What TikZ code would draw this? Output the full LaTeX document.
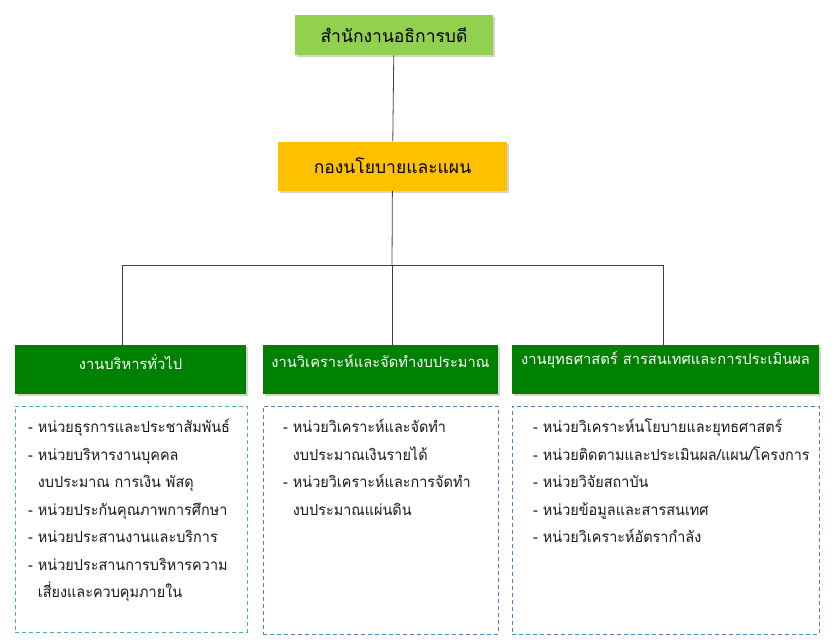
\documentclass[tikz,border=0pt]{standalone}
\usepackage{fontspec}
\setmainfont{Loma}[Script=Thai]
\newfontfamily\listfont{Loma}[Script=Thai, FakeStretch=0.95]
\usetikzlibrary{shadows}

\definecolor{lgreen}{HTML}{92D050}
\definecolor{amber}{HTML}{FFC000}
\definecolor{dgreen}{HTML}{008000}
\definecolor{teal}{RGB}{75,172,198}
\definecolor{steel}{RGB}{79,129,189}

\begin{document}
\begin{tikzpicture}[x=1pt, y=-1pt,
  topbox/.style={draw=none, minimum height=40pt, font=\fontsize{17.5}{19}\selectfont,
    drop shadow={opacity=0.35, shadow xshift=2pt, shadow yshift=-2pt}},
  head/.style={fill=dgreen, minimum height=49pt,
    drop shadow={opacity=0.35, shadow xshift=2pt, shadow yshift=-2pt}},
  headtxt/.style={text=white, yshift=8pt, font=\fontsize{14.7}{16}\selectfont},
  list/.style={draw, dashed, dash pattern=on 4pt off 3pt, line width=0.8pt},
  listtxt/.style={align=left, anchor=north west, inner sep=0pt,
    text=black!90, font=\listfont\fontsize{15.2}{27.5}\selectfont},
  link/.style={draw=black!75, line width=0.8pt}]

\useasboundingbox (0,0) rectangle (840,643);

% top two boxes
\node[topbox, fill=lgreen, minimum width=198pt] (obd) at (394,35) {สำนักงานอธิการบดี};
\node[topbox, fill=amber, minimum width=229pt, minimum height=49pt] (kong) at (392.5,166) {กองนโยบายและแผน};

% heads
\node[head, minimum width=231pt] (g1) at (130.5,369.5)
  [label={[headtxt]center:งานบริหารทั่วไป}] {};
\node[head, minimum width=235pt] (g2) at (380.5,369.5)
  [label={[headtxt]center:งานวิเคราะห์และจัดทำงบประมาณ}] {};
\node[head, minimum width=307pt] (g3) at (665.5,369.5)
  [label={[headtxt,yshift=2pt]center:งานยุทธศาสตร์ สารสนเทศและการประเมินผล}] {};

% lines
\coordinate (bus) at (392,265);
\coordinate (d1) at (122,265);
\coordinate (d3) at (663,265);
\draw[link] (obd) -- (kong);
\draw[link] (kong) -- (bus);
\draw[link] (d1) -- (d3);
\draw[link] (d1) -- (d1 |- g1.north);
\draw[link] (bus) -- (bus |- g2.north);
\draw[link] (d3) -- (d3 |- g3.north);

% lists
\node[list, draw=teal, minimum width=232pt, minimum height=226pt] (b1) at (131,519) {};
\node[list, draw=steel, minimum width=235pt, minimum height=228pt] (b2) at (380.5,520) {};
\node[list, draw=steel, minimum width=307pt, minimum height=228pt] (b3) at (665.5,520) {};

\node[listtxt] (l1) at (28,419) {%
- หน่วยธุรการและประชาสัมพันธ์\\
- หน่วยบริหารงานบุคคล\\
\hphantom{- }งบประมาณ การเงิน พัสดุ\\
- หน่วยประกันคุณภาพการศึกษา\\
- หน่วยประสานงานและบริการ\\
- หน่วยประสานการบริหารความ\\
\hphantom{- }เสี่ยงและควบคุมภายใน};
\node[listtxt] (l2) at (283,419) {%
- หน่วยวิเคราะห์และจัดทำ\\
\hphantom{- }งบประมาณเงินรายได้\\
- หน่วยวิเคราะห์และการจัดทำ\\
\hphantom{- }งบประมาณแผ่นดิน};
\node[listtxt] (l3) at (533,419) {%
- หน่วยวิเคราะห์นโยบายและยุทธศาสตร์\\
- หน่วยติดตามและประเมินผล/แผน/โครงการ\\
- หน่วยวิจัยสถาบัน\\
- หน่วยข้อมูลและสารสนเทศ\\
- หน่วยวิเคราะห์อัตรากำลัง};

\end{tikzpicture}
\end{document}
